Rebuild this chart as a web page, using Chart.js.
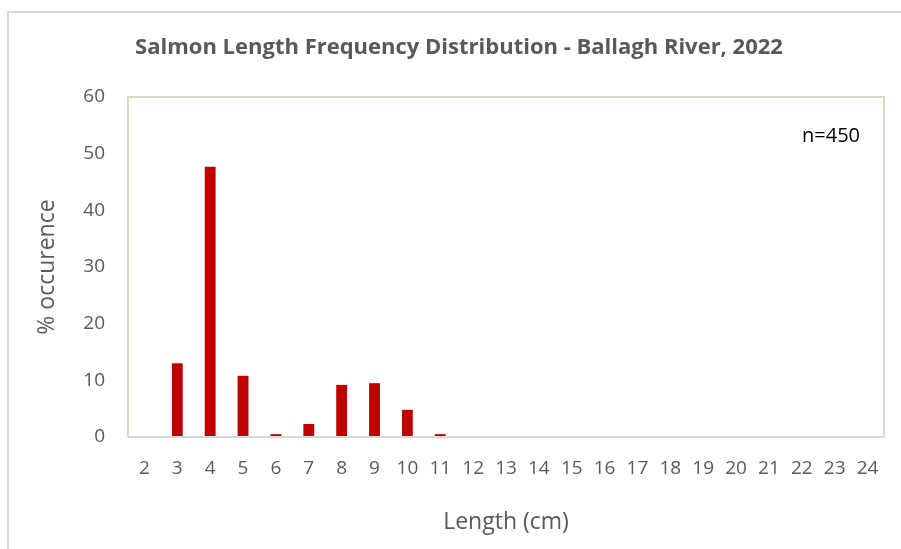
<!DOCTYPE html>
<html>
  <head>
    <title>Salmon Length Frequency Distribution</title>
    <script src="https://cdn.jsdelivr.net/npm/chart.js"></script>
    <style>
      body { margin: 0; background: #fff; }
      #wrap { position: relative; width: 901px; height: 549px; }
    </style>
  </head>
  <body>
    <div id="wrap">
      <canvas id="lengthChart" width="901" height="549"></canvas>
    </div>
    <script>
      // data
      var lengths = ["2", "3", "4", "5", "6", "7", "8", "9", "10", "11", "12", "13",
                     "14", "15", "16", "17", "18", "19", "20", "21", "22", "23", "24"];
      var occurence = [0, 13.0, 47.7, 10.8, 0.5, 2.3, 9.2, 9.5, 4.8, 0.5, 0, 0.1,
                       0.1, 0, 0, 0, 0, 0, 0, 0, 0, 0, 0];
      var yTicks = [0, 10, 20, 30, 40, 50, 60];
      var sampleLabel = "n=450";

      var grey = "#595959";
      var fontName = "'Open Sans', sans-serif";

      // frame around the plot area, outer chart border and the n= label
      var framePlugin = {
        id: "frame",
        beforeDraw: function (chart) {
          var ctx = chart.ctx;
          ctx.save();
          ctx.strokeStyle = "#d9d9d9";
          ctx.lineWidth = 2;
          ctx.beginPath();
          ctx.moveTo(8, 549);
          ctx.lineTo(8, 12);
          ctx.lineTo(901, 12);
          ctx.stroke();
          ctx.restore();
        },
        afterDraw: function (chart) {
          var a = chart.chartArea;
          var ctx = chart.ctx;
          ctx.save();
          ctx.strokeStyle = "#ddd9c4";
          ctx.lineWidth = 2;
          ctx.beginPath();
          ctx.moveTo(a.left, a.bottom);
          ctx.lineTo(a.left, a.top);
          ctx.lineTo(a.right, a.top);
          ctx.lineTo(a.right, a.bottom);
          ctx.stroke();
          ctx.strokeStyle = "#d9d9d9";
          ctx.beginPath();
          ctx.moveTo(a.left, a.bottom);
          ctx.lineTo(a.right, a.bottom);
          ctx.stroke();
          ctx.fillStyle = "#000";
          ctx.font = "20px " + fontName;
          ctx.textAlign = "right";
          ctx.textBaseline = "middle";
          ctx.fillText(sampleLabel, a.right - 24, 136);
          ctx.restore();
        },
      };

      var ctx = document.getElementById("lengthChart").getContext("2d");
      var lengthChart = new Chart(ctx, {
        type: "bar",
        data: {
          labels: lengths,
          datasets: [
            {
              label: "% occurence",
              data: occurence,
              backgroundColor: "#c00000",
              barPercentage: 0.33,
              categoryPercentage: 1.0,
            },
          ],
        },
        options: {
          responsive: false,
          animation: false,
          layout: { padding: { left: 34, right: 17, top: 0, bottom: 0 } },
          plugins: {
            legend: { display: false },
            tooltip: { enabled: false },
            title: {
              display: true,
              text: "Salmon Length Frequency Distribution - Ballagh River, 2022",
              color: grey,
              font: { family: fontName, size: 22, weight: "bold" },
              padding: { top: 35, bottom: 35.6 },
            },
          },
          scales: {
            x: {
              grid: { display: false, drawTicks: false },
              border: { display: false },
              ticks: {
                color: grey,
                font: { family: fontName, size: 19 },
                padding: 20,
                maxRotation: 0,
                autoSkip: false,
              },
              title: {
                display: true,
                text: "Length (cm)",
                color: grey,
                font: { family: fontName, size: 23 },
                padding: { top: 0, bottom: 13 },
              },
              afterFit: function (scale) {
                scale.height = 112;
              },
            },
            y: {
              min: 0,
              max: 60,
              afterBuildTicks: function (scale) {
                scale.ticks = yTicks.map(function (v) { return { value: v }; });
              },
              grid: { display: false, drawTicks: false },
              border: { display: false },
              ticks: {
                color: grey,
                font: { family: fontName, size: 19 },
                padding: 23,
              },
              title: {
                display: true,
                text: "% occurence",
                color: grey,
                font: { family: fontName, size: 23 },
                padding: { top: 0, bottom: 0 },
              },
              afterFit: function (scale) {
                scale.width = 94;
              },
            },
          },
        },
        plugins: [framePlugin],
      });
    </script>
  </body>
</html>
